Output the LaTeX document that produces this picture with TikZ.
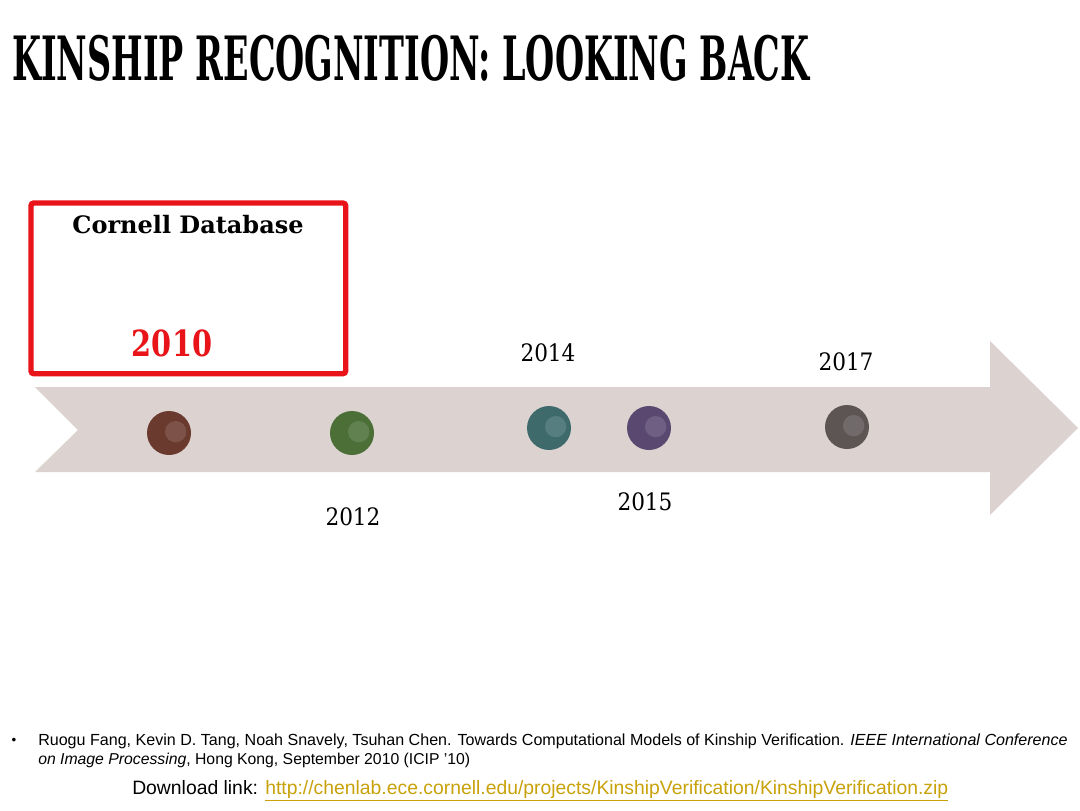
\documentclass[tikz,border=0pt]{standalone}
\usepackage{fontspec}
\setmainfont{Liberation Sans}
\newfontfamily\slab{DejaVu Serif}
\newfontfamily\slabc{DejaVu Serif Condensed}
\usetikzlibrary{positioning}
\definecolor{arrowgray}{HTML}{DCD3D1}
\definecolor{boxred}{HTML}{E8141A}
\definecolor{linkgold}{HTML}{C9A20A}
\definecolor{dotbrown}{HTML}{6A3A2E}
\definecolor{dotgreen}{HTML}{4B6F37}
\definecolor{dotteal}{HTML}{3E6A6C}
\definecolor{dotpurple}{HTML}{5A4870}
\definecolor{dotgray}{HTML}{5D5454}
\tikzset{
  yearlabel/.style={font=\slabc\fontsize{18}{20}\selectfont, text=black, inner sep=0pt},
  dot/.style={circle, minimum width=32pt, minimum height=33pt, inner sep=0pt, fill=#1},
  shine/.style={circle, minimum size=16pt, inner sep=0pt, fill=white, fill opacity=0.13},
}
\begin{document}
\begin{tikzpicture}[x=0.75pt,y=-0.75pt]
\useasboundingbox[fill=white] (0,0) rectangle (1080,810);
% title
\node[anchor=west, inner sep=0pt] (title) at (12,58)
  {\resizebox{598pt}{34pt}{\slabc\bfseries KINSHIP RECOGNITION: LOOKING BACK}};
% timeline arrow
\fill[arrowgray] (35,387) -- (990,387) -- (990,341) -- (1078,428) -- (990,515)
  -- (990,472) -- (35,472) -- (78,430) -- cycle;
% red box
\node[draw=boxred, line width=4pt, rounded corners=2pt, minimum width=236pt,
  minimum height=128pt, outer sep=0pt, anchor=north west, fill=white] (box) at (31,203) {};
\node[font=\slab\bfseries\fontsize{18}{20}\selectfont, inner sep=0pt] (cornell) at (188,225) {Cornell Database};
\node[font=\slab\bfseries\fontsize{27}{30}\selectfont, text=boxred, inner sep=0pt] (y2010) at (172,343)
  {\scalebox{0.8}[1]{2010}};
% dots
\node[dot=dotbrown] (d1) at (169,433) {};
\node[dot=dotgreen] (d2) at (352,433) {};
\node[dot=dotteal] (d3) at (549,428) {};
\node[dot=dotpurple] (d4) at (649,428) {};
\node[dot=dotgray] (d5) at (847,427) {};
\foreach \d in {d1,d2,d3,d4,d5}{
  \node[shine] at ([xshift=5pt,yshift=1pt]\d.center) {};
}
% year labels
\node[yearlabel] (y2014) at (548,353) {2014};
\node[yearlabel] (y2017) at (846,362) {2017};
\node[yearlabel] (y2012) at (353,517) {2012};
\node[yearlabel] (y2015) at (645,502) {2015};
% reference
\node[inner sep=0pt, font=\fontsize{10}{10}\selectfont] (bullet) at (14,741) {•};
\node[anchor=west, inner sep=0pt] (ref1) at (38,741)
  {\resizebox{772pt}{!}{\fontsize{11}{13}\selectfont Ruogu Fang, Kevin D. Tang, Noah Snavely, Tsuhan Chen. Towards Computational Models of Kinship Verification. \textit{IEEE International Conference}}};
\node[anchor=west, inner sep=0pt] (ref2) at (38,760)
  {\resizebox{324pt}{!}{\fontsize{11}{13}\selectfont \textit{on Image Processing}, Hong Kong, September 2010 (ICIP '10)}};
\node[anchor=west, inner sep=0pt] (dl) at (132,791)
  {\resizebox{612pt}{!}{\fontsize{12}{14}\selectfont Download link: \textcolor{linkgold}{\underline{http://chenlab.ece.cornell.edu/projects/KinshipVerification/KinshipVerification.zip}}}};
\end{tikzpicture}
\end{document}
